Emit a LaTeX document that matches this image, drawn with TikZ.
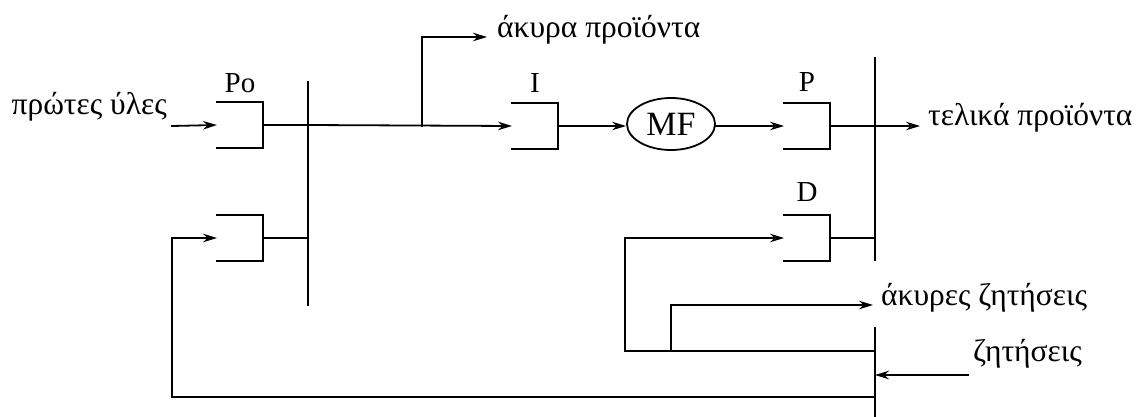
\documentclass[tikz,border=0pt]{standalone}
\usepackage{fontspec}
\setmainfont{Liberation Serif}
\usetikzlibrary{arrows.meta,shapes.geometric}
\begin{document}
\begin{tikzpicture}[x=1pt,y=-1pt,
  wire/.style={line width=1.8pt, line cap=rect},
  arr/.style={wire, -{Stealth[length=14pt,width=8.5pt]}},
  gate/.style={minimum width=46pt, minimum height=46pt, inner sep=0pt, outer sep=0pt},
  lbl/.style={font=\fontsize{29}{34}\selectfont, inner sep=0pt},
  txt/.style={font=\fontsize{31.5}{36}\selectfont, inner sep=0pt}]
\useasboundingbox (0,0) rectangle (1140,417);
\fill[white] (0,0) rectangle (1140,417);

% boxes
\node[gate] (Po)  at (240,125) {};
\node[gate] (Po2) at (240,238) {};
\node[gate] (I)   at (535,126) {};
\node[gate] (P)   at (807,126) {};
\node[gate] (D)   at (807,238) {};
\foreach \n in {Po,Po2,I,P,D}
  \draw[wire] (\n.north west) -- (\n.north east) -- (\n.south east) -- (\n.south west);

% labels
\node[lbl] (lPo) at (240,83) {Po};
\node[lbl] (lI)  at (535,83) {I};
\node[lbl] (lP)  at (807,82) {P};
\node[lbl] (lD)  at (807,192) {D};

% MF
\node[draw, line width=1.8pt, ellipse, minimum width=88pt, minimum height=52pt, inner sep=0pt, font=\fontsize{34}{38}\selectfont] (MF) at (671,124) {MF};

% bars
\coordinate (LBt) at (308,82);
\coordinate (LBb) at (308,305);
\coordinate (RBt) at (875,58);
\coordinate (RBm) at (875,260);
\coordinate (RBl) at (875,328);
\coordinate (RBb) at (875,417);
\draw[wire] (LBt) -- (LBb);
\draw[wire] (RBt) -- (RBm);
\draw[wire] (RBl) -- (RBb);

% texts
\node[txt, anchor=base east] (raw) at (167,114) {πρώτες ύλες};
\node[txt, anchor=base west] (bad) at (497,38) {άκυρα προϊόντα};
\node[txt, anchor=base west] (fin) at (928,125) {τελικά προϊόντα};
\node[txt, anchor=base west] (badq) at (881,305) {άκυρες ζητήσεις};
\node[txt, anchor=base west] (q) at (973,361) {ζητήσεις};

% input
\coordinate (in0) at (172,126);
\draw[arr] (in0) -- (Po.west);

% main line
\draw[wire] (Po.east) -- (Po.east -| LBt);
\draw[arr] (Po.east -| LBt) -- (I.west);
\coordinate (br1) at (422,126);
\coordinate (br1t) at (422,37);
\coordinate (br1e) at (487,37);
\draw[arr] (br1) -- (br1t) -- (br1e);
\draw[arr] (I.east) -- (MF.west |- I.east);
\draw[arr] (MF.east |- P.west) -- (P.west);
\coordinate (fe) at (920,126);
\draw[arr] (P.east) -- (fe);

% second Po
\draw[wire] (Po2.east) -- (Po2.east -| LBt);

% D to bar
\draw[wire] (D.east) -- (D.east -| RBt);

% demand loop
\coordinate (dq0) at (968,375);
\coordinate (dq1) at (875,375);
\draw[arr] (dq0) -- (dq1);
\coordinate (lp0) at (875,351);
\coordinate (lp1) at (625,351);
\draw[arr] (lp0) -- (lp1) -- (lp1 |- D.west) -- (D.west);
\coordinate (bq0) at (671,351);
\coordinate (bq1) at (671,305);
\coordinate (bq2) at (873,305);
\draw[arr] (bq0) -- (bq1) -- (bq2);

% feedback
\coordinate (fb0) at (875,397);
\coordinate (fb1) at (172,397);
\draw[arr] (fb0) -- (fb1) -- (fb1 |- Po2.west) -- (Po2.west);
\end{tikzpicture}
\end{document}
